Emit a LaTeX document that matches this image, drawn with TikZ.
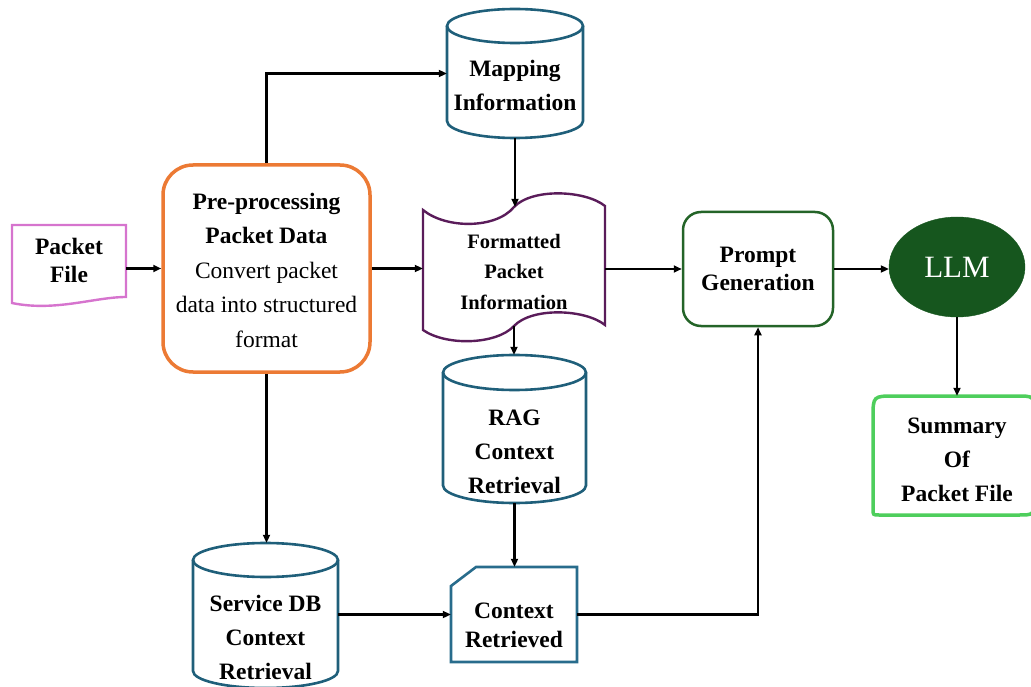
\documentclass[tikz,border=0pt]{standalone}
\usepackage{fontspec}
\setmainfont{Liberation Serif}
\usetikzlibrary{arrows.meta,calc,shapes.geometric}
\definecolor{teal1}{RGB}{31,95,122}
\definecolor{teal2}{RGB}{40,108,140}
\definecolor{purp}{RGB}{90,28,90}
\definecolor{pinkc}{RGB}{214,116,206}
\definecolor{orangec}{RGB}{236,122,52}
\definecolor{greenb}{RGB}{36,100,40}
\definecolor{llmfill}{RGB}{22,86,30}
\definecolor{sumgreen}{RGB}{78,206,92}
\tikzset{
  arr/.style={line width=2.2pt,-{Triangle[length=8pt,width=7pt]}},
  ghost/.style={draw=none,rectangle,inner sep=0pt},
  lbl/.style={align=center,inner sep=0pt,font=\fontsize{23.5}{34}\selectfont\bfseries},
  cylline/.style={draw=teal1,line width=2.6pt},
}
\begin{document}
\begin{tikzpicture}[x=1pt,y=-1pt]
\useasboundingbox (0,0) rectangle (1031,687);

% ---------- Packet File (document shape)
\draw[draw=pinkc,line width=2.4pt,fill=white] (12,225) -- (126,225) -- (126,297)
  .. controls (95,297) and (55,312) .. (12,303) -- cycle;
\node[ghost,minimum width=114pt,minimum height=75pt] (pf) at (69,262.5) {};
\node[lbl,font=\fontsize{23.5}{28}\selectfont\bfseries] (pfT) at (69,260) {Packet\\File};

% ---------- Pre-processing
\node[draw=orangec,line width=3.5pt,rounded corners=30pt,minimum width=207pt,minimum height=207pt,inner sep=0pt] (pre) at (266.5,268.5) {};
\node[align=center,inner sep=0pt,font=\fontsize{23.5}{34.5}\selectfont] (preT) at (266.5,270)
  {\textbf{Pre-processing}\\\textbf{Packet Data}\\Convert packet\\data into structured\\format};

% ---------- Mapping Information (cylinder)
\draw[cylline,fill=white] (447,26) -- (447,121) arc[start angle=180,end angle=0,x radius=68,y radius=17] -- (583,26);
\draw[cylline] (515,26) ellipse[x radius=68,y radius=17];
\node[ghost,minimum width=136pt,minimum height=129pt] (map) at (515,73.5) {};
\node[lbl] (mapT) at (515,85) {Mapping\\Information};

% ---------- Formatted Packet Information (tape)
\draw[draw=purp,line width=2.4pt,fill=white] (423,210) .. controls (446,229) and (496,229) .. (514,207)
  .. controls (532,188) and (585,190) .. (605,206) -- (605,325)
  .. controls (585,309) and (532,307) .. (514,326)
  .. controls (496,345) and (446,346) .. (423,330) -- cycle;
\node[ghost,minimum width=182pt,minimum height=119pt] (fmt) at (514,266.5) {};
\node[lbl,font=\fontsize{20.5}{30.5}\selectfont\bfseries] (fmtT) at (514,271.5) {Formatted\\Packet\\Information};

% ---------- RAG Context Retrieval (cylinder)
\draw[cylline,fill=white] (443,372.5) -- (443,485.5) arc[start angle=180,end angle=0,x radius=71.5,y radius=17.5] -- (586,372.5);
\draw[cylline] (514.5,372.5) ellipse[x radius=71.5,y radius=17.5];
\node[ghost,minimum width=143pt,minimum height=148pt] (rag) at (514.5,429) {};
\node[lbl] (ragT) at (514.5,452) {RAG\\Context\\Retrieval};

% ---------- Service DB Context Retrieval (cylinder)
\draw[cylline,fill=white] (193,560) -- (193,671) arc[start angle=180,end angle=0,x radius=72.5,y radius=17] -- (338,560);
\draw[cylline] (265.5,560) ellipse[x radius=72.5,y radius=17];
\node[ghost,minimum width=145pt,minimum height=145pt] (sdb) at (265.5,615.5) {};
\node[lbl] (sdbT) at (265.5,637) {Service DB\\Context\\Retrieval};

% ---------- Context Retrieved (snipped card)
\draw[draw=teal2,line width=2.6pt,fill=white] (476,567) -- (577,567) -- (577,662) -- (451,662) -- (451,586) -- cycle;
\node[ghost,minimum width=126pt,minimum height=95pt] (ctx) at (514,614.5) {};
\node[lbl,font=\fontsize{23.5}{29}\selectfont\bfseries] (ctxT) at (514,625.5) {Context\\Retrieved};

% ---------- Prompt Generation
\node[draw=greenb,line width=2.5pt,rounded corners=18pt,minimum width=150pt,minimum height=114pt,inner sep=0pt,
  align=center,font=\fontsize{23.5}{28}\selectfont\bfseries] (prompt) at (758,269) {Prompt\\Generation};

% ---------- LLM
\node[ellipse,draw=llmfill,fill=llmfill,minimum width=136pt,minimum height=100pt,inner sep=0pt,
  text=white,font=\fontsize{31}{36}\selectfont] (llm) at (957,267) {LLM};

% ---------- Summary
\draw[draw=sumgreen,line width=3.5pt,fill=white] (1016,396) -- (895,396) .. controls (873,396) .. (873,418)
  -- (873,509) .. controls (873,515) .. (879,515) -- (1018,515) .. controls (1034,515) .. (1034,499)
  -- (1034,412) .. controls (1034,396) .. (1016,396) -- cycle;
\node[ghost,minimum width=157pt,minimum height=119pt] (sum) at (951,455.5) {};
\node[lbl] (sumT) at (957,460) {Summary\\Of\\Packet File};

% ---------- Connectors
\draw[arr] (pf.east |- pre.west) -- (pre.west);
\draw[arr] (pre.north) |- (map.west);
\draw[arr] (map.south) -- (map.south |- fmt.north);
\draw[arr] (pre.east) -- (pre.east -| fmt.west);
\draw[arr] (fmt.east |- prompt.west) -- (prompt.west);
\draw[arr] (prompt.east) -- (prompt.east -| llm.west);
\draw[arr] (llm.south) -- (llm.south |- sum.north);
\draw[arr] (fmt.south) -- (fmt.south |- rag.north);
\draw[arr] (pre.south) -- (pre.south |- sdb.north);
\draw[arr] (rag.south) -- (rag.south |- ctx.north);
\draw[arr] (sdb.east |- ctx.west) -- (ctx.west);
\draw[arr] (ctx.east) -| (prompt.south);
\end{tikzpicture}
\end{document}
